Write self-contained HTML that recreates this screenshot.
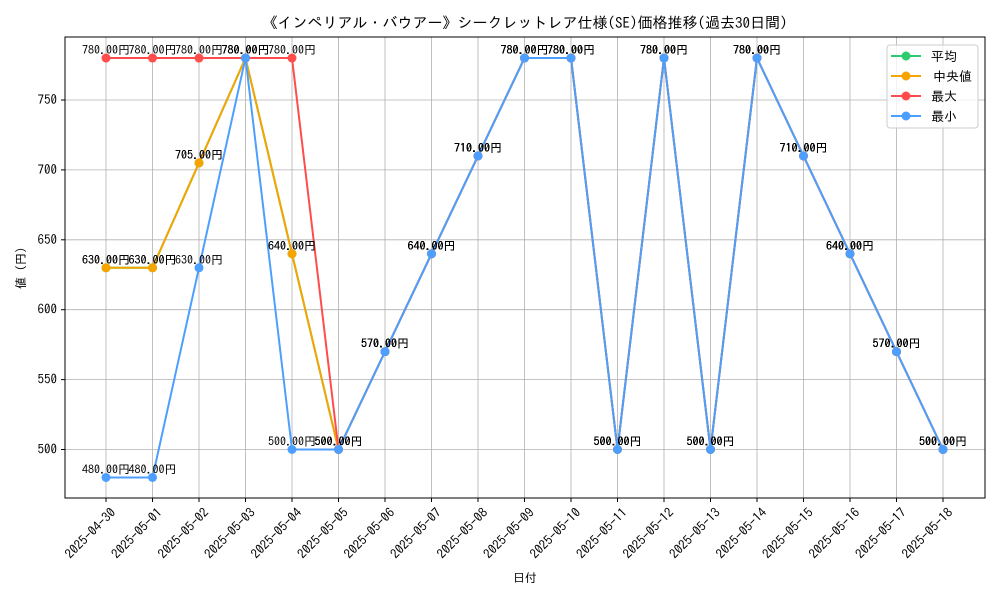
<!DOCTYPE html>
<html><head><meta charset="utf-8">
<style>
body{margin:0;background:#fff;font-family:"IPAGothic","Liberation Sans","Noto Sans CJK JP",sans-serif;}
svg text{font-family:"IPAGothic","Liberation Sans","Noto Sans CJK JP",sans-serif;}
</style></head>
<body>
<svg id="chart" width="1000" height="600" xmlns="http://www.w3.org/2000/svg">
<text x="525" y="28" text-anchor="middle" font-size="15">《インペリアル・バウアー》シークレットレア仕様(SE)価格推移(過去30日間)</text>
<g id="grid"></g>
<g id="series"></g>
<g id="labels"></g>
<rect x="65" y="37" width="920" height="461" fill="none" stroke="#000" stroke-width="1"/>
<g id="axes"></g>
<text x="525" y="582" text-anchor="middle" font-size="12">日付</text>
<text transform="translate(25,268) rotate(-90)" text-anchor="middle" font-size="12">値 (円)</text>
<g>
<rect x="887" y="45" width="91" height="83" rx="3" fill="#fff" fill-opacity="0.8" stroke="#ccc"/>
<g><line x1="891" y1="56" x2="921" y2="56" stroke="#2ecc71" stroke-width="2"/><circle cx="906" cy="56" r="4.5" fill="#2ecc71"/><text x="931" y="61" font-size="13">平均</text></g>
<g><line x1="891" y1="76" x2="921" y2="76" stroke="#f5a400" stroke-width="2"/><circle cx="906" cy="76" r="4.5" fill="#f5a400"/><text x="933" y="81" font-size="13">中央値</text></g>
<g><line x1="891" y1="96" x2="921" y2="96" stroke="#ff4d4d" stroke-width="2"/><circle cx="906" cy="96" r="4.5" fill="#ff4d4d"/><text x="931" y="101" font-size="13">最大</text></g>
<g><line x1="891" y1="116" x2="921" y2="116" stroke="#4d9fff" stroke-width="2"/><circle cx="906" cy="116" r="4.5" fill="#4d9fff"/><text x="931" y="121" font-size="13">最小</text></g>
</g>
</svg>
<script>
const dates=["2025-04-30","2025-05-01","2025-05-02","2025-05-03","2025-05-04","2025-05-05","2025-05-06","2025-05-07","2025-05-08","2025-05-09","2025-05-10","2025-05-11","2025-05-12","2025-05-13","2025-05-14","2025-05-15","2025-05-16","2025-05-17","2025-05-18"];
const meanVals=[630,630,705,780,640,500,570,640,710,780,780,500,780,500,780,710,640,570,500];
const medianVals=[630,630,705,780,640,500,570,640,710,780,780,500,780,500,780,710,640,570,500];
const maxVals=[780,780,780,780,780,500,570,640,710,780,780,500,780,500,780,710,640,570,500];
const minVals=[480,480,630,780,500,500,570,640,710,780,780,500,780,500,780,710,640,570,500];
const yTicks=[500,550,600,650,700,750];
const NS="http://www.w3.org/2000/svg";
function X(i){return 106+i*(943-106)/(dates.length-1);}
function Y(v){return 449.5-(v-500)*(349.5/250);}
function mk(tag,attrs,parent){const e=document.createElementNS(NS,tag);for(const k in attrs)e.setAttribute(k,attrs[k]);parent.appendChild(e);return e;}
const grid=document.getElementById('grid'),axes=document.getElementById('axes'),ser=document.getElementById('series'),lab=document.getElementById('labels');
dates.forEach((d,i)=>{
  const g=mk('line',{x1:X(i),x2:X(i),y1:37,y2:498,stroke:'#b0b0b0','stroke-width':0.8},grid);
  
  
  const t=mk('line',{x1:X(i),x2:X(i),y1:498,y2:502,stroke:'#000'},axes);
  
  
  const tx=mk('text',{transform:`translate(${X(i)+4},${507}) rotate(-45)`,'text-anchor':'end','font-size':13,dy:'0.7em'},axes);
  tx.textContent=d;
  
  
});
yTicks.forEach(v=>{
  const g=mk('line',{x1:65,x2:985,y1:Y(v),y2:Y(v),stroke:'#b0b0b0','stroke-width':0.8},grid);
  
  
  const t=mk('line',{x1:61,x2:65,y1:Y(v),y2:Y(v),stroke:'#000'},axes);
  
  
  const tx=mk('text',{x:57,y:Y(v)+4,'text-anchor':'end','font-size':13},axes);
  tx.textContent=v;
  
  
});
const series=[["mean",meanVals,"#2ecc71"],["median",medianVals,"#f5a400"],["max",maxVals,"#ff4d4d"],["min",minVals,"#4d9fff"]];
series.forEach(([name,vals,col])=>{
  const p=mk('polyline',{points:vals.map((v,i)=>X(i)+','+Y(v)).join(' '),fill:'none',stroke:col,'stroke-width':2},ser);
  
  
  vals.forEach((v,i)=>{
    const c=mk('circle',{cx:X(i),cy:Y(v),r:4.5,fill:col},ser);
    
    
    const t=mk('text',{x:X(i),y:Y(v)-4,'text-anchor':'middle','font-size':12},lab);
    t.textContent=v.toFixed(2)+'円';
    
    
  });
});
</script>
</body></html>
